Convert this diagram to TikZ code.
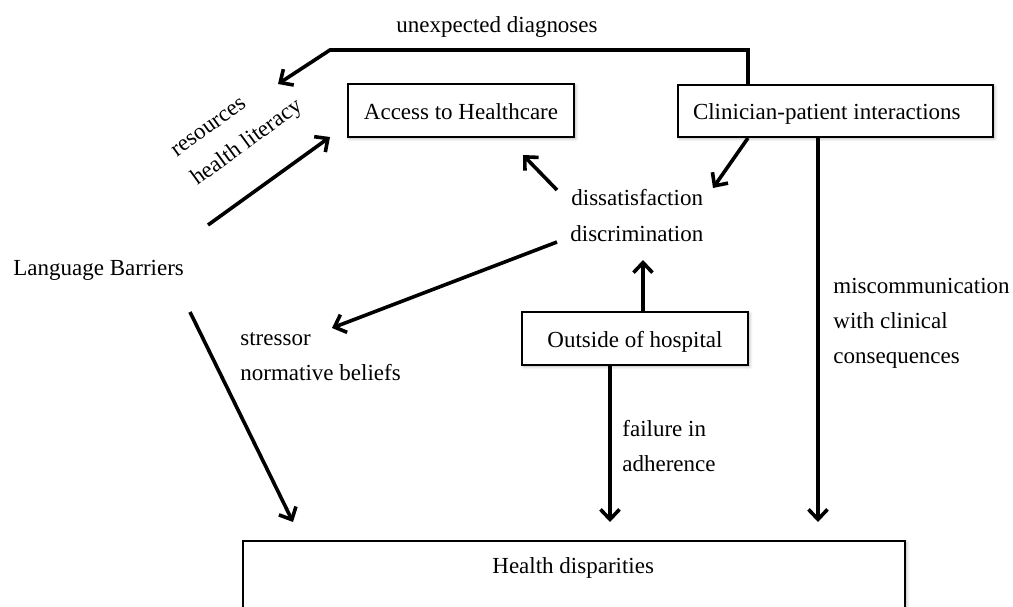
\documentclass[tikz,border=0pt]{standalone}
\usepackage{fontspec}
\setmainfont{Liberation Serif}
\usetikzlibrary{arrows.meta,shadows.blur}
\begin{document}
\begin{tikzpicture}[x=0.5pt,y=-0.5pt,
  font=\fontsize{11.5}{14}\selectfont,
  box/.style={draw=black,line width=1pt,fill=white,inner sep=0pt,
    text height=9.5pt,text depth=1pt,
    blur shadow={shadow blur steps=6,shadow xshift=0.8pt,shadow yshift=-0.8pt,
      shadow opacity=30,shadow blur radius=1.5pt}},
  lbl/.style={anchor=base west,inner sep=0pt},
  arr/.style={line width=1.8pt,-{Straight Barb[length=5pt,width=9.5pt]}},
]
\clip (0,0) rectangle (1013,606);

% boxes
\node[box,minimum width=113pt,minimum height=26.5pt] (acc) at (461,110.5) {Access to Healthcare};
\node[box,text width=142.5pt,inner xsep=7.5pt,align=flush left,minimum height=26pt] (cpi) at (835.5,111) {Clinician-patient interactions};
\node[box,minimum width=113pt,minimum height=26.5pt] (out) at (635,338.5) {Outside of hospital};
\node[box,minimum width=331pt,minimum height=60pt] (hd) at (574,601) {};
\node[lbl] (hdt) at (492,573) {Health disparities};

% labels
\node[lbl] (unexp) at (396,32) {unexpected diagnoses};
\node[lbl,rotate=36] (reshl) at (197,186)
  {\renewcommand{\arraystretch}{1.25}\begin{tabular}[b]{@{}l@{}}resources\\health literacy\end{tabular}};
\node[lbl] (lang) at (13,275) {Language Barriers};
\node[lbl] (diss) at (571,205) {dissatisfaction};
\node[lbl] (disc) at (570,241) {discrimination};
\node[lbl] (stress) at (240,345) {stressor};
\node[lbl] (norm) at (240,380) {normative beliefs};
\node[lbl] (mis1) at (833,293) {miscommunication};
\node[lbl] (mis2) at (833,328) {with clinical};
\node[lbl] (mis3) at (833,363) {consequences};
\node[lbl] (fail1) at (622,436) {failure in};
\node[lbl] (fail2) at (622,471) {adherence};

% connector points
\coordinate (ud1) at (748,50);
\coordinate (ud2) at (330,50);
\coordinate (udTip) at (278,84);
\coordinate (dsTip) at (713,188);
\coordinate (mcTip) at (818,522);
\coordinate (upTip) at (643,260);
\coordinate (fTip) at (610,522);
\coordinate (lb1) at (208,225);
\coordinate (acTip) at (330,137);
\coordinate (lb2) at (190,312);
\coordinate (lbTip) at (293,522);
\coordinate (ds1) at (557,190);
\coordinate (acTip2) at (523,155);
\coordinate (ds2) at (557,242);
\coordinate (stTip) at (332,328);

% connectors
\draw[arr] (cpi.north -| ud1) -- (ud1) -- (ud2) -- (udTip);
\draw[arr] (cpi.south -| ud1) -- (dsTip);
\draw[arr] (cpi.south -| mcTip) -- (mcTip);
\draw[arr] (out.north -| upTip) -- (upTip);
\draw[arr] (out.south -| fTip) -- (fTip);
\draw[arr] (lb1) -- (acTip);
\draw[arr] (lb2) -- (lbTip);
\draw[arr] (ds1) -- (acTip2);
\draw[arr] (ds2) -- (stTip);
\end{tikzpicture}
\end{document}
